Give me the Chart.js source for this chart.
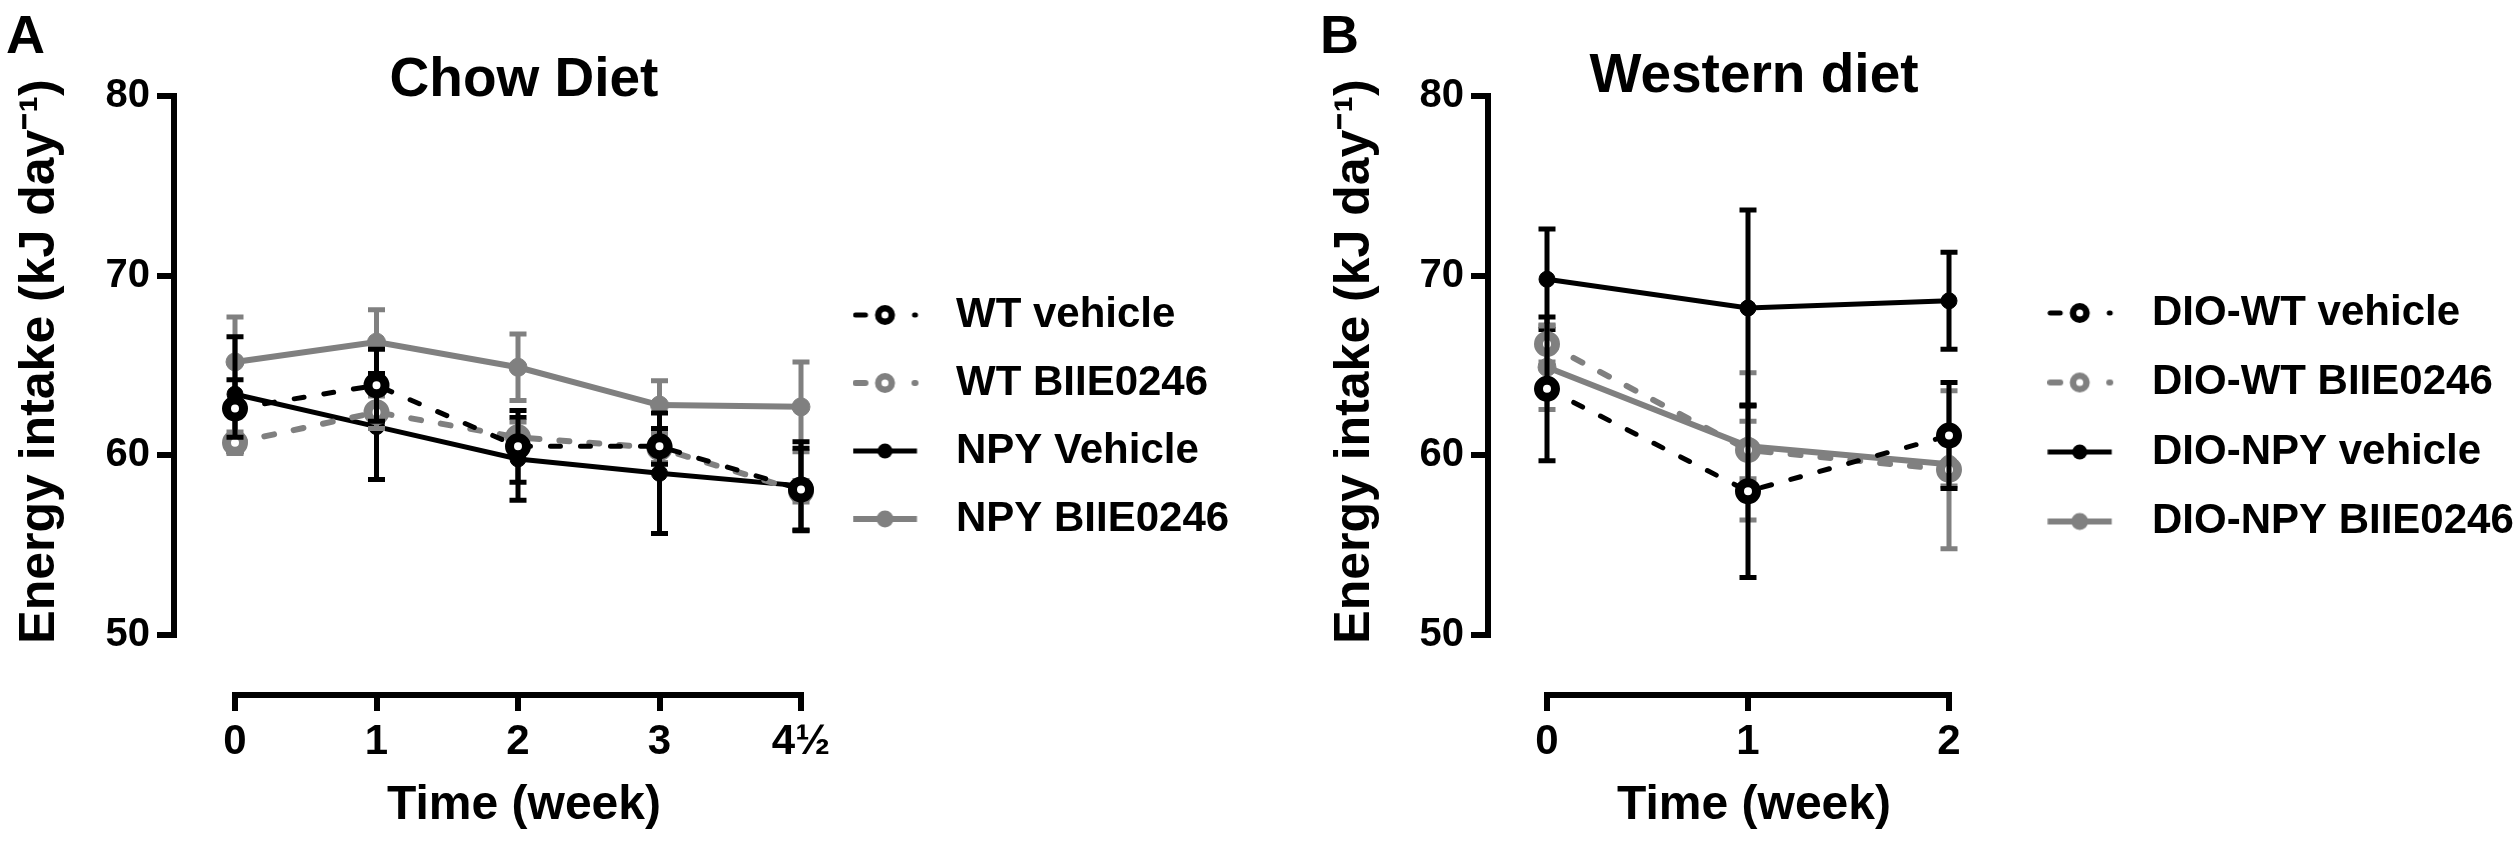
<!DOCTYPE html>
<html>
<head>
<meta charset="utf-8">
<script src="https://cdn.jsdelivr.net/npm/chart.js@4.4.1/dist/chart.umd.min.js"></script>
<style>
html, body { margin: 0; padding: 0; background: #fff; width: 2517px; height: 841px; overflow: hidden; }
.panel { position: absolute; top: 0; height: 841px; }
#pa { left: 0; width: 1315px; }
#pb { left: 1315px; width: 1202px; }
.letter { position: absolute; font: bold 54px 'Liberation Sans', Arial, sans-serif; line-height: 54px; color: #000; z-index: 2; }
</style>
</head>
<body>
<div class="panel" id="pa"><canvas id="ca"></canvas></div>
<div class="panel" id="pb"><canvas id="cb"></canvas></div>
<div class="letter" style="left:6px;top:7px">A</div>
<div class="letter" style="left:1320px;top:7px">B</div>
<script>
// ---------------- DATA ----------------
const yTicks = [50, 60, 70, 80];

const weeksA = ['0', '1', '2', '3', '4½'];
const labelsA = ['WT vehicle', 'WT BIIE0246', 'NPY Vehicle', 'NPY BIIE0246'];
const chowWTVehicle = [62.6, 63.9, 60.5, 60.5, 58.1];
const chowWTVehicleSEM = [1.6, 2.0, 2.0, 1.0, 2.3];
const chowWTBIIE = [60.7, 62.4, 61.0, 60.4, 58.0];
const chowWTBIIESEM = [0.6, 0.9, 0.85, 0.8, 0.6];
const chowNPYVehicle = [63.4, 61.6, 59.8, 59.0, 58.3];
const chowNPYVehicleSEM = [3.2, 2.95, 2.3, 3.35, 2.45];
const chowNPYBIIE = [65.2, 66.3, 64.9, 62.8, 62.7];
const chowNPYBIIESEM = [2.5, 1.8, 1.85, 1.35, 2.5];

const weeksB = ['0', '1', '2'];
const labelsB = ['DIO-WT vehicle', 'DIO-WT BIIE0246', 'DIO-NPY vehicle', 'DIO-NPY BIIE0246'];
const westWTVehicle = [63.7, 58.0, 61.1];
const westWTVehicleSEM = [4.0, 4.8, 2.95];
const westWTBIIE = [66.2, 60.3, 59.2];
const westWTBIIESEM = [1.0, 1.6, 4.4];
const westNPYVehicle = [69.8, 68.2, 68.6];
const westNPYVehicleSEM = [2.8, 5.45, 2.7];
const westNPYBIIE = [64.9, 60.5, 59.5];
const westNPYBIIESEM = [2.35, 4.1, 1.2];

// ---------------- STYLE ----------------
const BLACK = '#000000', GRAY = '#808080';
const FAMILY = "'Liberation Sans', Arial, Helvetica, sans-serif";
const seriesStyles = [
  { color: BLACK, width: 5, dash: [10, 20], open: true,  r: 8.5, bw: 9 },
  { color: GRAY,  width: 6, dash: [10, 20], open: true,  r: 8.5, bw: 9 },
  { color: BLACK, width: 5, dash: [],       open: false, r: 8,   bw: 1 },
  { color: GRAY,  width: 6, dash: [],       open: false, r: 9,   bw: 1 }
];

Chart.defaults.font.family = FAMILY;
Chart.defaults.color = '#000';

// pixel layout targets
const TOP_TICK_PX = 96, BOTTOM_TICK_PX = 635, XAXIS_PX = 695, AREA_TOP = 28, CANVAS_H = 841;

function makeSymbol(st, half) {
  const c = document.createElement('canvas');
  c.width = Math.round(half * 2); c.height = 32;
  const g = c.getContext('2d');
  const cx = 32.5, cy = 16;
  g.strokeStyle = st.color; g.lineWidth = st.width;
  if (st.dash.length) {
    g.lineCap = 'round';
    g.beginPath(); g.moveTo(3, cy); g.lineTo(13, cy); g.stroke();
    g.beginPath(); g.moveTo(62, cy); g.lineTo(63, cy); g.stroke();
  } else {
    g.lineCap = 'butt';
    g.beginPath(); g.moveTo(0.5, cy); g.lineTo(64.5, cy); g.stroke();
  }
  g.beginPath();
  if (st.open) {
    g.arc(cx, cy, 6.75, 0, Math.PI * 2);
    g.fillStyle = '#fff'; g.fill();
    g.lineWidth = 6.5; g.strokeStyle = st.color; g.stroke();
  } else {
    g.arc(cx, cy, st.r - 0.5, 0, Math.PI * 2);
    g.fillStyle = st.color; g.fill();
  }
  return c;
}

const errorBarPlugin = {
  id: 'errorBars',
  beforeDatasetDraw(chart, args) {
    const ds = chart.data.datasets[args.index];
    if (!ds.errors) return;
    const ys = chart.scales.y, ctx = chart.ctx;
    ctx.save();
    ctx.strokeStyle = ds.borderColor; ctx.lineWidth = 5; ctx.lineCap = 'butt'; ctx.setLineDash([]);
    args.meta.data.forEach((pt, i) => {
      const v = ds.data[i].y, e = ds.errors[i];
      const yt = ys.getPixelForValue(v + e), yb = ys.getPixelForValue(v - e);
      ctx.beginPath();
      ctx.moveTo(pt.x, yt); ctx.lineTo(pt.x, yb);
      ctx.moveTo(pt.x - 8.5, yt); ctx.lineTo(pt.x + 8.5, yt);
      ctx.moveTo(pt.x - 8.5, yb); ctx.lineTo(pt.x + 8.5, yb);
      ctx.stroke();
    });
    ctx.restore();
  }
};

const axisLinePlugin = {
  id: 'axisLines',
  beforeDatasetsDraw(chart) {
    const { ctx, scales: { x, y } } = chart;
    const n = chart.data.labels.length;
    const yT = y.getPixelForValue(yTicks[yTicks.length - 1]);
    const yB = y.getPixelForValue(yTicks[0]);
    const xL = x.getPixelForValue(0), xR = x.getPixelForValue(n - 1);
    ctx.save();
    ctx.strokeStyle = '#000'; ctx.lineWidth = 6; ctx.lineCap = 'butt';
    ctx.beginPath();
    ctx.moveTo(y.right, yT - 3); ctx.lineTo(y.right, yB + 3);
    ctx.moveTo(xL - 3, x.top); ctx.lineTo(xR + 3, x.top);
    ctx.stroke();
    ctx.restore();
  }
};

// legend occupies [areaRight, canvasW] in the layout, then its drawing box starts at drawLeft
function legendBoxPlugin(layoutWidth, drawLeft) {
  return {
    id: 'legendBox',
    beforeLayout(chart) {
      const lg = chart.legend;
      if (lg && !lg.__fixedWidth) {
        const baseFit = Object.getPrototypeOf(lg).fit;
        lg.fit = function () { baseFit.call(this); this.width = layoutWidth; };
        lg.__fixedWidth = true;
      }
    },
    afterLayout(chart) {
      const lg = chart.legend;
      if (!lg) return;
      const right = lg.right;
      lg.left = drawLeft;
      lg.width = right - drawLeft;
    }
  };
}

function buildChart(canvasId, d) {
  const ppu = (BOTTOM_TICK_PX - TOP_TICK_PX) / (yTicks[yTicks.length - 1] - yTicks[0]);
  const yMax = yTicks[yTicks.length - 1] + (TOP_TICK_PX - AREA_TOP) / ppu;
  const yMin = yTicks[0] - (XAXIS_PX - BOTTOM_TICK_PX) / ppu;
  const xMin = (d.yAxisWidth - d.x0px) / d.stepPx;
  const xMax = xMin + (d.areaRight - d.yAxisWidth) / d.stepPx;
  // legend geometry: text at drawLeft + pad + boxW + fontSize/2, symbol centre given
  const fs = 42;
  const boxW = d.textX - d.legendLeft - d.legendPad - fs / 2;
  const boxCenter = d.legendLeft + d.legendPad + boxW / 2;
  const off = d.symX - boxCenter;
  const half = Math.max(32.5 - off, 32.5 + off);
  const symbols = seriesStyles.map(st => makeSymbol(st, half));

  const datasets = d.series.map((vals, i) => {
    const st = seriesStyles[i];
    return {
      label: d.labels[i],
      data: vals.map((v, k) => ({ x: k, y: v })),
      errors: d.errs[i],
      borderColor: st.color,
      backgroundColor: st.open ? '#fff' : st.color,
      borderWidth: st.width,
      borderDash: st.dash,
      borderCapStyle: st.dash.length ? 'round' : 'butt',
      pointStyle: 'circle',
      pointRadius: st.r,
      pointHoverRadius: st.r,
      pointBorderWidth: st.bw,
      pointHoverBorderWidth: st.bw,
      pointBackgroundColor: st.open ? '#fff' : st.color,
      pointBorderColor: st.color,
      fill: false,
      tension: 0,
      clip: false
    };
  });

  return new Chart(document.getElementById(canvasId), {
    type: 'line',
    data: { labels: d.weeks, datasets },
    plugins: [errorBarPlugin, axisLinePlugin, legendBoxPlugin(d.canvasW - d.areaRight, d.legendLeft)],
    options: {
      responsive: true,
      maintainAspectRatio: false,
      animation: false,
      events: [],
      layout: { padding: 0 },
      plugins: {
        tooltip: { enabled: false },
        title: {
          display: true, text: d.title, fullSize: false, color: '#000',
          font: { size: 55, weight: 'bold', lineHeight: 0.4 },
          padding: { top: d.titleTop, bottom: AREA_TOP - 22 - d.titleTop }
        },
        legend: {
          display: true, position: 'right', align: 'start', fullSize: true,
          title: { display: true, text: ' ', font: { size: 10, lineHeight: 1 }, padding: { top: d.legendTitleH - 10, bottom: 0 } },
          labels: {
            usePointStyle: true,
            pointStyleWidth: boxW,
            padding: d.legendPad,
            color: '#000',
            font: { size: fs, weight: 'bold' },
            generateLabels: (chart) => chart.data.datasets.map((ds, i) => ({
              text: ds.label, pointStyle: symbols[i], fontColor: '#000', hidden: false,
              datasetIndex: i, lineWidth: 0, strokeStyle: 'rgba(0,0,0,0)', fillStyle: 'rgba(0,0,0,0)'
            }))
          }
        }
      },
      scales: {
        x: {
          type: 'linear', position: 'bottom', min: xMin, max: xMax,
          afterBuildTicks: (s) => { s.ticks = d.weeks.map((_, i) => ({ value: i })); },
          afterFit: (s) => { s.height = CANVAS_H - XAXIS_PX; },
          ticks: {
            autoSkip: false, maxRotation: 0, minRotation: 0, padding: 6, color: '#000',
            font: { size: 42, weight: 'bold' },
            callback: (v) => d.weeks[v]
          },
          grid: { display: true, drawOnChartArea: false, drawTicks: true, tickLength: 16, lineWidth: 6, color: '#000' },
          border: { display: false },
          title: { display: true, text: 'Time (week)', color: '#000', font: { size: 48, weight: 'bold' }, padding: { top: 0, bottom: 6 } }
        },
        y: {
          type: 'linear', position: 'left', min: yMin, max: yMax,
          afterBuildTicks: (s) => { s.ticks = yTicks.map(v => ({ value: v })); },
          afterFit: (s) => { s.width = d.yAxisWidth; },
          ticks: {
            padding: 7, color: '#000',
            font: { size: 40, weight: 'bold', lineHeight: 1 },
            callback: (v) => String(v)
          },
          grid: { display: true, drawOnChartArea: false, drawTicks: true, tickLength: 17, lineWidth: 6, color: '#000' },
          border: { display: false },
          title: { display: true, text: 'Energy intake (kJ day⁻¹)', color: '#000', font: { size: 50, weight: 'bold' }, padding: { top: 10, bottom: 0 } }
        }
      }
    }
  });
}

buildChart('ca', {
  weeks: weeksA, labels: labelsA, title: 'Chow Diet', titleTop: 70,
  series: [chowWTVehicle, chowWTBIIE, chowNPYVehicle, chowNPYBIIE],
  errs: [chowWTVehicleSEM, chowWTBIIESEM, chowNPYVehicleSEM, chowNPYBIIESEM],
  canvasW: 1315, yAxisWidth: 174, x0px: 235, stepPx: 141.5, areaRight: 874,
  legendLeft: 840, textX: 956, symX: 885, legendPad: 26, legendTitleH: 268
});

buildChart('cb', {
  weeks: weeksB, labels: labelsB, title: 'Western diet', titleTop: 66,
  series: [westWTVehicle, westWTBIIE, westNPYVehicle, westNPYBIIE],
  errs: [westWTVehicleSEM, westWTBIIESEM, westNPYVehicleSEM, westNPYBIIESEM],
  canvasW: 1202, yAxisWidth: 173, x0px: 232, stepPx: 201, areaRight: 705,
  legendLeft: 690, textX: 837, symX: 765, legendPad: 27.5, legendTitleH: 264.5
});
</script>
</body>
</html>
